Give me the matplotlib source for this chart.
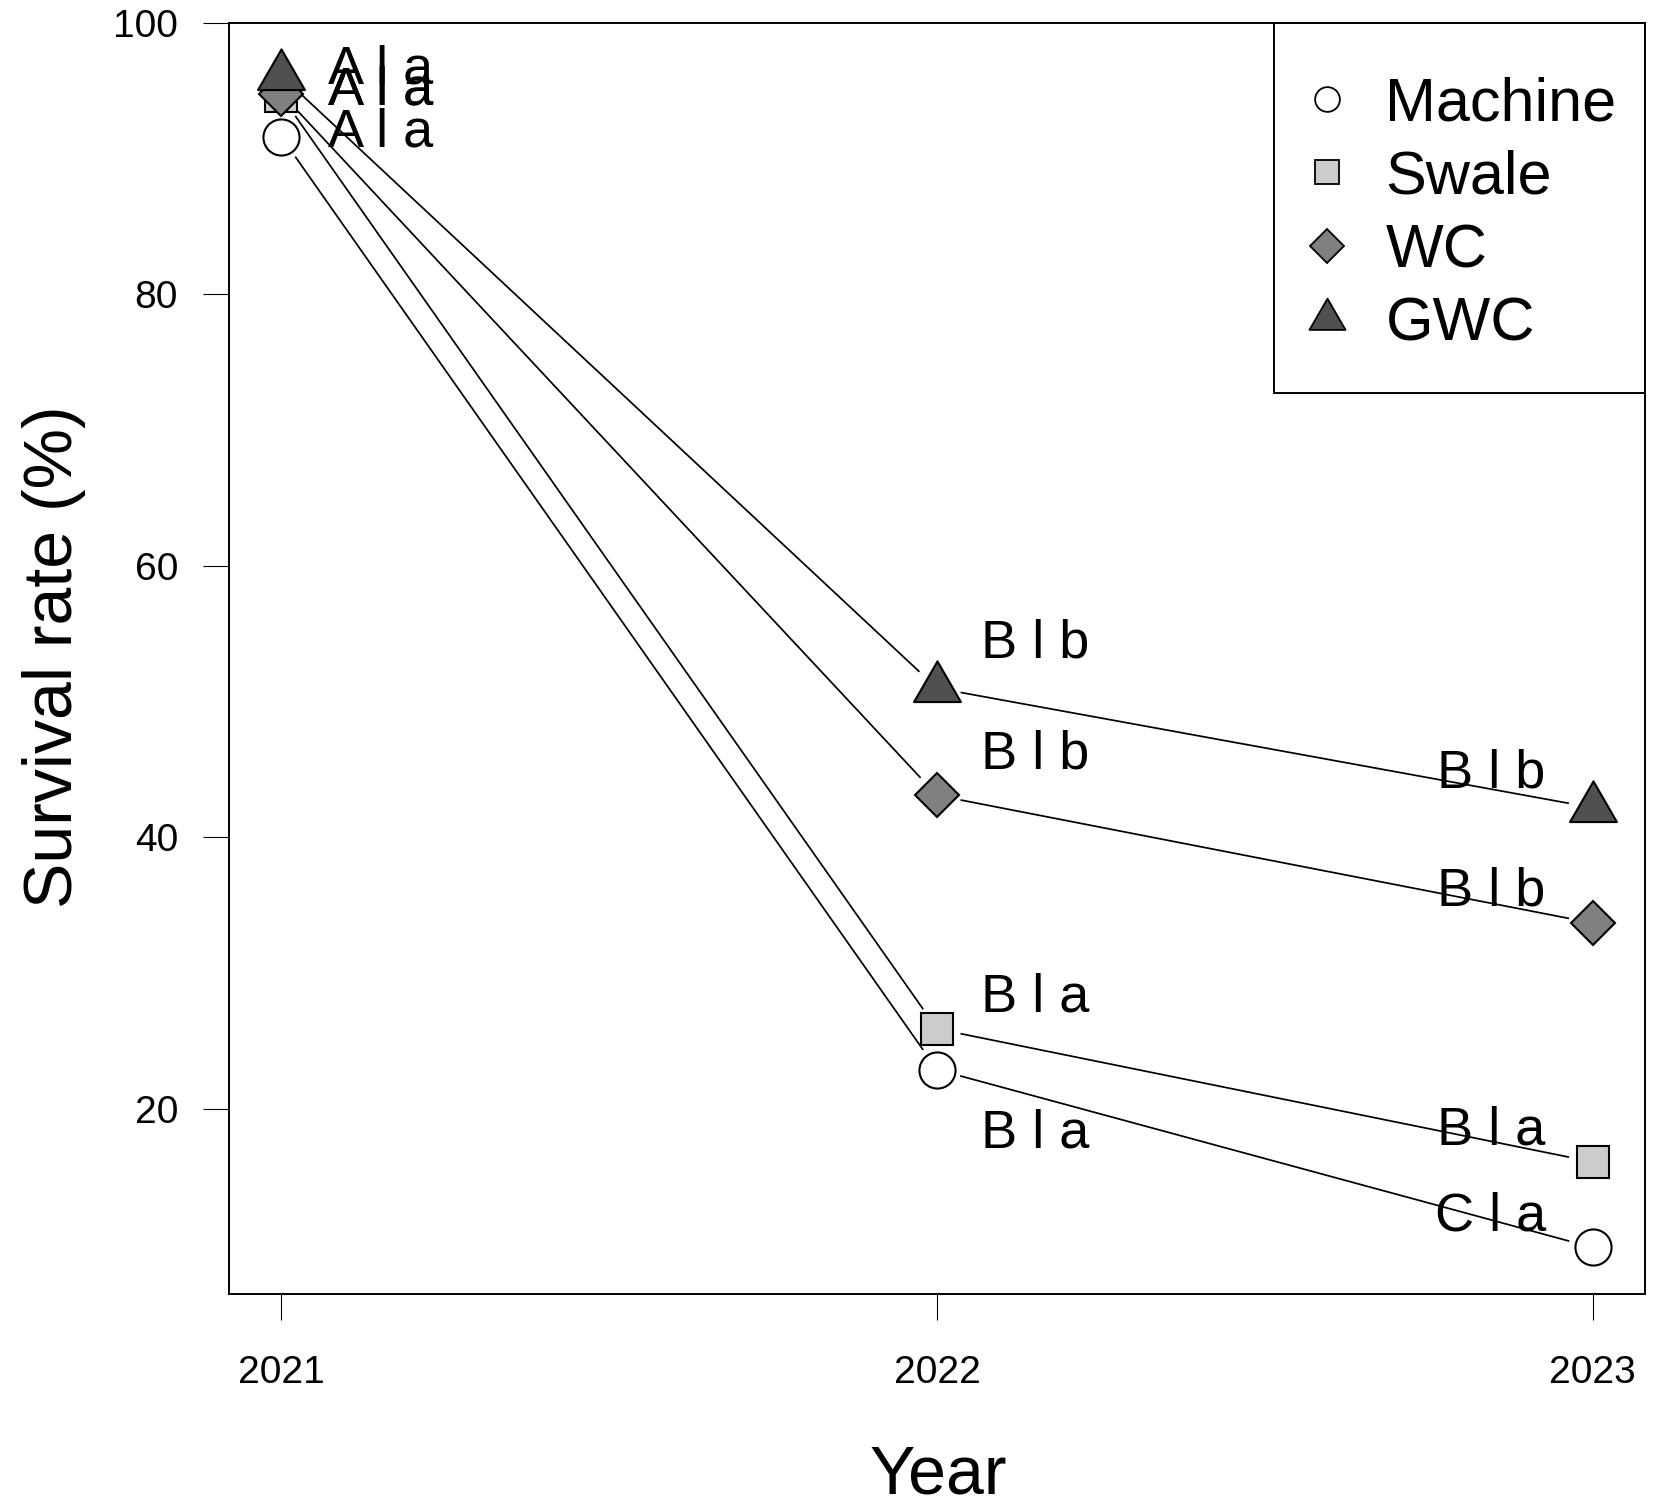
import numpy as np
import matplotlib
matplotlib.use("Agg")
import matplotlib.pyplot as plt
from matplotlib.lines import Line2D
from matplotlib.patches import Rectangle
from matplotlib.path import Path

plt.rcParams["font.family"] = ["Liberation Sans", "DejaVu Sans"]

# ---- data ----
years = [2021, 2022, 2023]
treatments = ["Machine", "Swale", "WC", "GWC"]
machine = [91.6, 22.9, 9.8]
swale = [94.6, 25.9, 16.1]
wc = [94.8, 43.1, 33.7]
gwc = [96.1, 51.0, 42.2]
letters_machine = ["A l a", "B l a", "C l a"]
letters_swale = ["A l a", "B l a", "B l a"]
letters_wc = ["A l a", "B l b", "B l b"]
letters_gwc = ["A l a", "B l b", "B l b"]
y_ticks = [20, 40, 60, 80, 100]

series = [machine, swale, wc, gwc]
letters = [letters_machine, letters_swale, letters_wc, letters_gwc]

# ---- styles ----
# equilateral triangle centred on its centroid
tri_path = Path([(0, 1.5551), (1.3468, -0.7776), (-1.3468, -0.7776), (0, 0)],
                [Path.MOVETO, Path.LINETO, Path.LINETO, Path.CLOSEPOLY])
markers = ["o", "s", "D", tri_path]
fills = ["white", "#cccccc", "#808080", "#505050"]
sizes = [26, 23, 22.4, 39]
legend_sizes = [17.8, 16.8, 17.8, 30]
# letter placement relative to each point: x shift per year, y shift per point
label_dx = [0.151, 0.150, -0.155]
label_dy = [[-0.7, -5.77, 1.23],
            [-0.64, 1.28, 1.25],
            [-0.84, 2.0, 1.32],
            [-0.54, 2.24, 1.45]]

W, H, DPI = 1656, 1505, 100
fig = plt.figure(figsize=(W / DPI, H / DPI), dpi=DPI)
ax = fig.add_axes([229 / W, 1 - 1294 / H, (1645 - 229) / W, (1294 - 23) / H])
ax.set_xlim(2020.92, 2023.08)
ax.set_ylim(6.37, 100)

for s in ax.spines.values():
    s.set_linewidth(1.4)
ax.set_xticks(years)
ax.set_xticklabels([str(y) for y in years])
ax.set_yticks(y_ticks)
ax.tick_params(axis="both", direction="out", length=18.7, width=0.8,
               labelsize=28, color="black")
ax.tick_params(axis="y", pad=18)
ax.tick_params(axis="x", pad=25)

# connecting lines with gaps around each point (overplotted "b" style)
GAP = 24  # pixels
trans = ax.transData
inv = trans.inverted()
for vals in series:
    pts = trans.transform(np.column_stack([years, vals]))
    for p0, p1 in zip(pts[:-1], pts[1:]):
        d = p1 - p0
        u = d / np.hypot(*d)
        seg = inv.transform(np.array([p0 + u * GAP, p1 - u * GAP]))
        ax.plot(seg[:, 0], seg[:, 1], color="black", lw=1.25, zorder=2,
                solid_capstyle="butt")

for vals, m, fc, ms in zip(series, markers, fills, sizes):
    ax.plot(years, vals, linestyle="none", marker=m, markersize=ms,
            markerfacecolor=fc, markeredgecolor="black", markeredgewidth=1.5,
            zorder=3)

for vals, labs, dys in zip(series, letters, label_dy):
    for x, v, lab, dx, dy in zip(years, vals, labs, label_dx, dys):
        ax.text(x + dx, v + dy, lab, ha="center", va="baseline", fontsize=39,
                zorder=4)

# legend
handles = [Line2D([], [], linestyle="none", marker=m, markersize=ms,
                  markerfacecolor=fc, markeredgecolor="black",
                  markeredgewidth=1.3)
           for m, fc, ms in zip(markers, fills, legend_sizes)]
ax.legend(handles, treatments, loc="center", bbox_to_anchor=(0.869, 0.849),
          frameon=False, fontsize=44, borderpad=0, handlelength=0.8,
          handletextpad=0.56, labelspacing=0.265)
ax.add_patch(Rectangle((0.738, 0.7089), 0.262, 0.2911, transform=ax.transAxes,
                       fill=False, edgecolor="black", linewidth=1.4,
                       clip_on=False, zorder=5))

fig.text(72 / W, 1 - 657 / H, "Survival rate (%)", rotation=90,
         rotation_mode="anchor", ha="center", va="baseline", fontsize=49)
fig.text(938 / W, 1 - 1493 / H, "Year", ha="center", va="baseline", fontsize=49)

fig.savefig("out.png", dpi=DPI)
